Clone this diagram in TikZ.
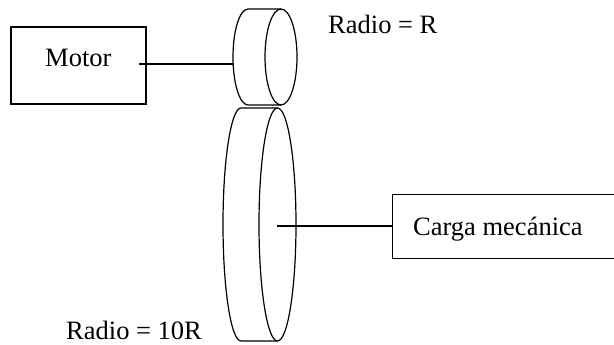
\documentclass[tikz,border=0pt]{standalone}
\usepackage{fontspec}
\setmainfont{Liberation Serif}
\tikzset{
  box/.style={draw,line width=1.2pt,inner sep=0pt},
  openbox/.style={inner sep=0pt},
  lbl/.style={inner sep=0pt,font=\fontsize{26.5pt}{29pt}\selectfont,anchor=base west},
  ln/.style={line width=1.2pt}
}
\begin{document}
\begin{tikzpicture}[x=1pt,y=-1pt]
\useasboundingbox (0,0) rectangle (614,345);
\node[box,minimum width=135pt,minimum height=77pt] (motor) at (78.5,65.5) {};
\node[lbl] (mt) at (45,66.5) {Motor};
\node[openbox,minimum width=221pt,minimum height=63pt] (carga) at (503.5,226.5) {};
\draw[ln] (carga.north east) -- (carga.north west) -- (carga.south west) -- (carga.south east);
\node[lbl] (ct) at (413,235) {Carga mecánica};
\node[lbl] (r1) at (328,34) {Radio = R};
\node[lbl] (r2) at (66,339) {Radio = 10R};
% small wheel
\coordinate (sc) at (281,57);
\draw[ln] (sc) ellipse [x radius=16,y radius=48];
\draw[ln] (281,9) -- (248,9) arc[start angle=270,end angle=90,x radius=15,y radius=48] -- (281,105);
\coordinate (sl) at (233,64);
\coordinate (ms) at (139,64);
\draw[ln] (ms) -- (sl);
% large wheel
\coordinate (lc) at (277.5,224.5);
\draw[ln] (lc) ellipse [x radius=18.5,y radius=116.5];
\draw[ln] (277.5,108) -- (241,108) arc[start angle=270,end angle=90,x radius=18,y radius=116.5] -- (277.5,341);
\coordinate (ls) at (277,226);
\draw[ln] (ls) -- (carga.west |- ls);
\end{tikzpicture}
\end{document}
